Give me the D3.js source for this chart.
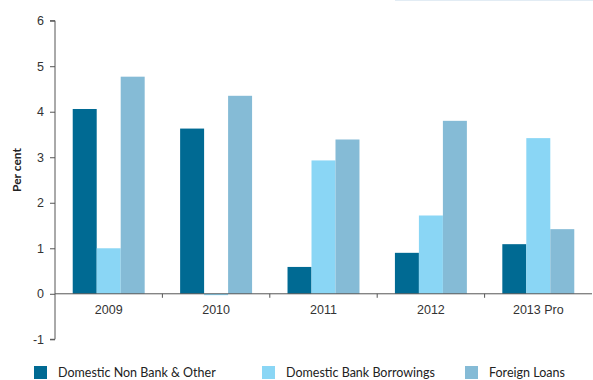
<!DOCTYPE html>
<html>
<head>
<meta charset="utf-8">
<script src="https://cdn.jsdelivr.net/npm/d3@7"></script>
<style>
  html, body { margin: 0; padding: 0; background: #fff; }
  svg { display: block; font-family: "Lato", "Open Sans", "DejaVu Sans", sans-serif; }
</style>
</head>
<body>
<svg id="chart" width="593" height="380"></svg>
<script>
// Categories and series (per cent)
const years = ["2009", "2010", "2011", "2012", "2013 Pro"];
const seriesNames = ["Domestic Non Bank & Other", "Domestic Bank Borrowings", "Foreign Loans"];
const nonBank = [4.06, 3.63, 0.59, 0.90, 1.09];
const bankBorrowings = [1.00, -0.03, 2.93, 1.72, 3.42];
const foreignLoans = [4.77, 4.35, 3.39, 3.80, 1.42];
const yTicks = [-1, 0, 1, 2, 3, 4, 5, 6];
const colors = ["#006a93", "#8ad6f5", "#85bbd6"];

const series = [nonBank, bankBorrowings, foreignLoans];

const svg = d3.select("#chart");
const plotLeft = 55, plotRight = 592, plotTop = 20.7, plotBottom = 339.3;

const y = d3.scaleLinear().domain([-1, 6]).range([plotBottom, plotTop]);
const x0 = d3.scaleBand().domain(years).range([plotLeft, plotRight]).paddingInner(0).paddingOuter(0);
const groupW = x0.bandwidth() * 0.67;
const x1 = d3.scaleBand().domain(d3.range(series.length)).range([0, groupW]);

// faint rule along the top edge
svg.append("line")
  .attr("x1", 395).attr("x2", 593).attr("y1", 0.5).attr("y2", 0.5)
  .attr("stroke", "#e2ecf4").attr("stroke-width", 1);

// bars
years.forEach((yr, i) => {
  const gx = x0(yr) + (x0.bandwidth() - groupW) / 2;
  series.forEach((s, j) => {
    const v = s[i];
    svg.append("rect")
      .attr("x", gx + x1(j))
      .attr("y", y(Math.max(0, v)))
      .attr("width", x1.bandwidth())
      .attr("height", Math.abs(y(v) - y(0)))
      .attr("fill", colors[j]);
  });
});

// y axis
const yAxis = d3.axisLeft(y).tickValues(yTicks).tickSize(5).tickPadding(6).tickFormat(d => String(d));
const gy = svg.append("g").attr("transform", `translate(${plotLeft},0)`).call(yAxis);
gy.select(".domain").attr("stroke", "#555").attr("d", `M-5,${plotTop}H0V${plotBottom}H-5`);
gy.selectAll(".tick line").attr("stroke", "#555");
gy.selectAll(".tick text").attr("fill", "#333").attr("font-size", 12.5);

// x axis at zero
const xAxis = d3.axisBottom(x0).tickSize(0).tickPadding(11);
const gxAxis = svg.append("g").attr("transform", `translate(0,${y(0)})`).call(xAxis);
gxAxis.select(".domain").attr("stroke", "#555").attr("d", `M${plotLeft},0H${plotRight}`);
gxAxis.selectAll(".tick text").attr("fill", "#333").attr("font-size", 12.5);
// separators between categories
years.slice(1).forEach(yr => {
  gxAxis.append("line")
    .attr("x1", x0(yr)).attr("x2", x0(yr))
    .attr("y1", 0).attr("y2", 4)
    .attr("stroke", "#555");
});

// y axis title
svg.append("text")
  .attr("transform", `translate(21,170) rotate(-90)`)
  .attr("text-anchor", "middle")
  .attr("font-size", 12).attr("font-weight", "bold").attr("fill", "#222")
  .text("Per cent");

// legend
const legendX = [34, 262, 465];
seriesNames.forEach((name, j) => {
  svg.append("rect")
    .attr("x", legendX[j]).attr("y", 366)
    .attr("width", 13).attr("height", 13)
    .attr("fill", colors[j]);
  svg.append("text")
    .attr("x", legendX[j] + 24).attr("y", 377)
    .attr("font-size", 12.5).attr("fill", "#222")
    .text(name);
});
</script>
</body>
</html>
